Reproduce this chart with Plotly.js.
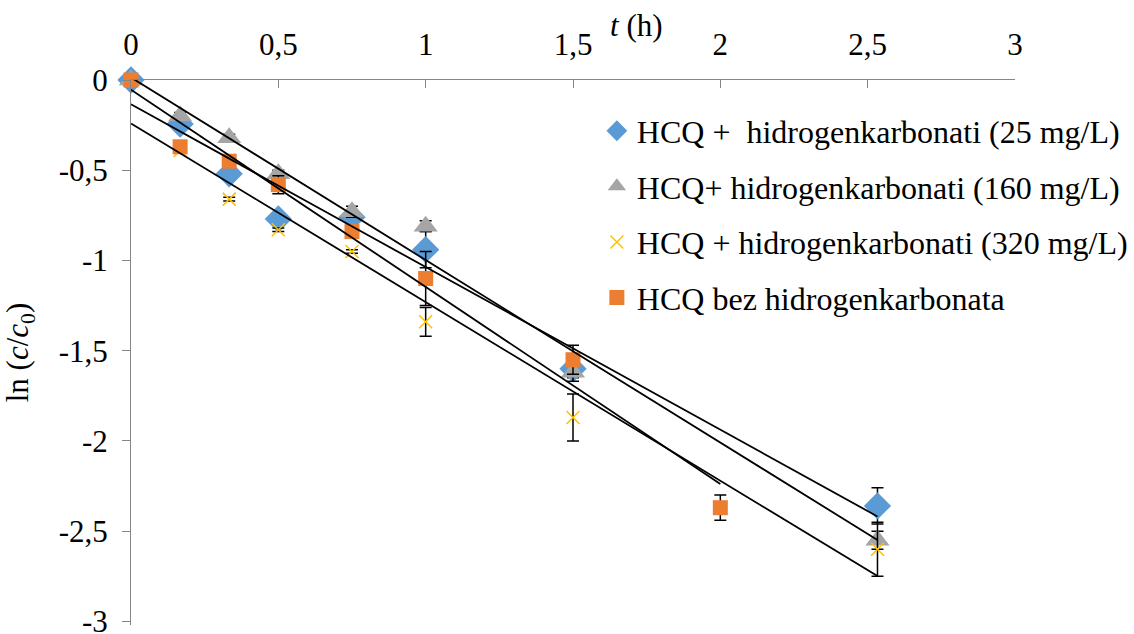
<!DOCTYPE html>
<html>
<head>
<meta charset="utf-8">
<script src="https://cdn.plot.ly/plotly-3.0.1.min.js"></script>
<style>
html,body{margin:0;padding:0;background:#fff;}
#chart{width:1134px;height:634px;}
</style>
</head>
<body>
<div id="chart"></div>
<script>
// time (h)
const tMain = [0, 0.1667, 0.3333, 0.5, 0.75, 1, 1.5, 2.5333];
const tNoBic = [0, 0.1667, 0.3333, 0.5, 0.75, 1, 1.5, 2];

// ln(c/c0) values
const y25 = [0, -0.244, -0.52, -0.77, -0.76, -0.94, -1.6, -2.36];
const y160 = [0, -0.2, -0.32, -0.52, -0.73, -0.81, -1.62, -2.55];
const y320 = [0, -0.39, -0.66, -0.83, -0.95, -1.34, -1.87, -2.6];
const yNoBic = [0, -0.37, -0.45, -0.58, -0.84, -1.1, -1.55, -2.37];

// error bars
const e25 = [0, 0.02, 0.02, 0.02, 0.02, 0.1, 0.05, 0.1];
const e160 = [0, 0.02, 0.02, 0.02, 0.03, 0.03, 0.05, 0.05];
const e320 = [0, 0.01, 0.01, 0.01, 0.01, 0.08, 0.13, 0.15];
const eNoBic = [0, 0.02, 0.02, 0.05, 0.03, 0.15, 0.08, 0.07];

const names = [
  'HCQ +  hidrogenkarbonati (25 mg/L)',
  'HCQ+ hidrogenkarbonati (160 mg/L)',
  'HCQ + hidrogenkarbonati (320 mg/L)',
  'HCQ bez hidrogenkarbonata'
];

const xTickVals = [0, 0.5, 1, 1.5, 2, 2.5, 3];
const xTickText = ['0', '0,5', '1', '1,5', '2', '2,5', '3'];
const yTickVals = [0, -0.5, -1, -1.5, -2, -2.5, -3];
const yTickText = ['0', '-0,5', '-1', '-1,5', '-2', '-2,5', '-3'];

const FONT = 'Liberation Serif';

function errCfg(arr){
  return {type:'data', array:arr, visible:true, color:'#000000', thickness:1.5, width:6};
}

function fit(x, y){
  const n = x.length;
  let sx=0, sy=0, sxx=0, sxy=0;
  for(let i=0;i<n;i++){ sx+=x[i]; sy+=y[i]; sxx+=x[i]*x[i]; sxy+=x[i]*y[i]; }
  const m = (n*sxy - sx*sy)/(n*sxx - sx*sx);
  const b = (sy - m*sx)/n;
  const x0 = Math.min(...x), x1 = Math.max(...x);
  return {x:[x0, x1], y:[m*x0+b, m*x1+b]};
}

const series = [
  {x:tMain, y:y25, e:e25, name:names[0], marker:{symbol:'diamond', size:21, color:'#5B9BD5'}},
  {x:tMain, y:y160, e:e160, name:names[1], marker:{symbol:'triangle-up', size:21, color:'#A5A5A5'}},
  {x:tMain, y:y320, e:e320, name:names[2], marker:{symbol:'x-thin-open', size:13, color:'#FFC000', line:{color:'#FFC000', width:1.5}}},
  {x:tNoBic, y:yNoBic, e:eNoBic, name:names[3], marker:{symbol:'square', size:15, color:'#ED7D31'}}
];

const traces = [];
series.forEach((s, i) => {
  traces.push({
    type:'scatter', mode:'markers', x:s.x, y:s.y, name:s.name,
    marker:s.marker, error_y:errCfg(s.e), legendgroup:'g'+i, cliponaxis:false
  });
});
series.forEach((s, i) => {
  const f = fit(s.x, s.y);
  traces.push({
    type:'scatter', mode:'lines', x:f.x, y:f.y, showlegend:false, hoverinfo:'skip',
    line:{color:'#000000', width:1.8}, legendgroup:'g'+i
  });
});

const layout = {
  width:1134, height:634,
  margin:{l:131, r:119, t:80, b:9, autoexpand:false},
  paper_bgcolor:'#ffffff', plot_bgcolor:'#ffffff',
  font:{family:FONT, size:31, color:'#000000'},
  showlegend:true,
  legend:{
    x:0.527, xanchor:'left', y:0.957, yanchor:'top',
    font:{family:FONT, size:32, color:'#000000'},
    bgcolor:'rgba(0,0,0,0)', tracegroupgap:11, itemsizing:'trace'
  },
  xaxis:{
    side:'top', range:[0,3], tickvals:xTickVals, ticktext:xTickText,
    showgrid:false, zeroline:false, showline:true, linecolor:'#868686', linewidth:1,
    ticks:'inside', ticklen:8, tickcolor:'#868686', tickwidth:1,
    ticklabelstandoff:12, ticklabeloverflow:'allow', automargin:false,
    tickfont:{family:FONT, size:31, color:'#000000'},
    fixedrange:true
  },
  yaxis:{
    range:[-3.02,0], tickvals:yTickVals, ticktext:yTickText,
    showgrid:false, zeroline:false, showline:true, linecolor:'#868686', linewidth:1,
    ticks:'outside', ticklen:8, tickcolor:'#868686', tickwidth:1,
    ticklabelstandoff:8, ticklabeloverflow:'allow', automargin:false,
    tickfont:{family:FONT, size:31, color:'#000000'},
    title:{text:'ln (<i>c</i>/<i>c</i><sub>0</sub>)', font:{family:FONT, size:31, color:'#000000'}, standoff:20},
    fixedrange:true
  },
  annotations:[{
    xref:'paper', yref:'paper', x:0.572, y:1.1, xanchor:'center', yanchor:'middle',
    text:'<i>t</i> (h)', showarrow:false, font:{family:FONT, size:31, color:'#000000'}
  }]
};

Plotly.newPlot('chart', traces, layout, {displayModeBar:false, staticPlot:true});
</script>
</body>
</html>
